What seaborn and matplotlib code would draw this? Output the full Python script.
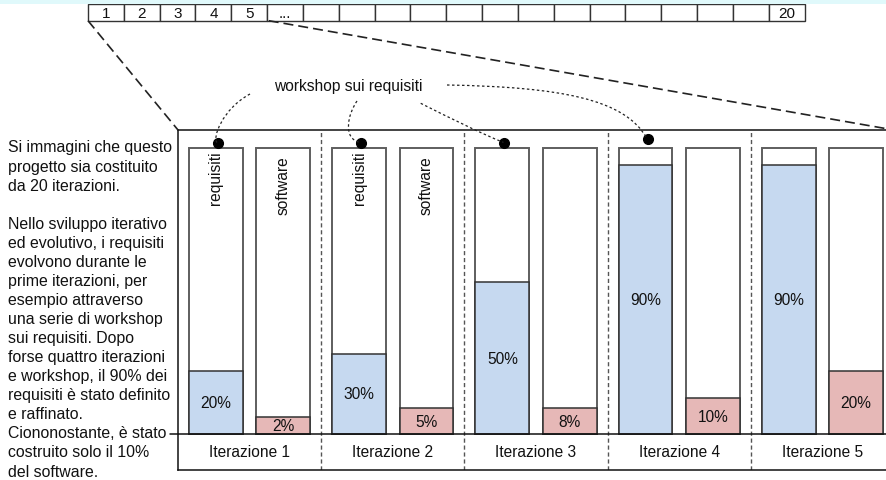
import numpy as np
import pandas as pd
import matplotlib
matplotlib.use("Agg")
import matplotlib.pyplot as plt
from matplotlib.path import Path
from matplotlib.patches import PathPatch, Rectangle
import seaborn as sns

# ---------------- data ----------------
iterazioni = ["Iterazione 1", "Iterazione 2", "Iterazione 3", "Iterazione 4", "Iterazione 5"]
tipi = ["requisiti", "software"]
# percentages written on the bars
requisiti_pct = [20, 30, 50, 90, 90]
software_pct = [2, 5, 8, 10, 20]
# fill heights as drawn in the picture (share of the full bar, %)
requisiti_altezza = [22, 28, 53, 94, 94]
software_altezza = [6, 9, 9, 12.5, 22]
# the strip of 20 iterations on top
celle = ["1", "2", "3", "4", "5", "..."] + [""] * 13 + ["20"]
# iterations whose requisiti bar gets a workshop dot
workshop_iter = [0, 1, 2, 3]
workshop_label = "workshop sui requisiti"
paragrafo = [
    "Si immagini che questo", "progetto sia costituito", "da 20 iterazioni.", "",
    "Nello sviluppo iterativo", "ed evolutivo, i requisiti", "evolvono durante le",
    "prime iterazioni, per", "esempio attraverso", "una serie di workshop",
    "sui requisiti. Dopo", "forse quattro iterazioni", "e workshop, il 90% dei",
    "requisiti è stato definito", "e raffinato.", "Ciononostante, è stato",
    "costruito solo il 10%", "del software.",
]

BLUE = "#c6d9f0"
PINK = "#e6b8b7"
FS = 11.2

# ---------------- figure ----------------
W, H = 887, 481
sns.set_theme(style="white")
plt.rcParams["font.family"] = ["Liberation Sans", "DejaVu Sans"]
plt.rcParams["text.color"] = "#111111"
fig = plt.figure(figsize=(W / 100, H / 100), dpi=100)
fig.patch.set_facecolor("white")


def fr(x0, y0, x1, y1):
    return [x0 / W, 1 - y1 / H, (x1 - x0) / W, (y1 - y0) / H]


fig.patches.append(Rectangle((0, 1 - 5 / H), 1, 5 / H, transform=fig.transFigure,
                             facecolor="#e0f9fb", edgecolor="none", zorder=0))

# ---------------- main chart ----------------
ax = fig.add_axes(fr(178, 131, 894, 471))
Y0, Y1 = -12.6, 106.3
df = pd.DataFrame({
    "iterazione": iterazioni * 2,
    "tipo": ["requisiti"] * len(iterazioni) + ["software"] * len(iterazioni),
    "altezza": requisiti_altezza + software_altezza,
    "pieno": [100] * (2 * len(iterazioni)),
})
sns.barplot(data=df, x="iterazione", y="pieno", hue="tipo", hue_order=tipi,
            palette=["white", "white"], saturation=1, width=0.94, gap=0.2,
            errorbar=None, edgecolor="#5e5e5e", linewidth=1.4, legend=False, ax=ax)
sns.barplot(data=df, x="iterazione", y="altezza", hue="tipo", hue_order=tipi,
            palette=[BLUE, PINK], saturation=1, width=0.94, gap=0.2,
            errorbar=None, edgecolor="#333333", linewidth=1.1, legend=False, ax=ax)
ax.set_xlim(-0.5, 4.5)
ax.set_ylim(Y0, Y1)
ax.set_xticks([])
ax.set_yticks([])
ax.set_xlabel("")
ax.set_ylabel("")
ax.set_facecolor("white")
for s in ["left", "top", "bottom"]:
    ax.spines[s].set_visible(True)
    ax.spines[s].set_color("#111111")
    ax.spines[s].set_linewidth(1.1)
ax.spines["right"].set_visible(False)
ax.axhline(0, color="#111111", lw=1.1, zorder=5)
ax.vlines(np.arange(len(iterazioni) - 1) + 0.5, Y0, Y1, colors="#555555",
          linestyles=(0, (3, 2)), lw=1, zorder=1)

cont_req, cont_sw = ax.containers[2], ax.containers[3]
ax.bar_label(cont_req, labels=[f"{v}%" for v in requisiti_pct], label_type="center", fontsize=FS)
ax.bar_label(cont_sw, labels=[f"{v}%" for v in software_pct], label_type="center", fontsize=FS)

for i, lab in enumerate(iterazioni):
    ax.text(i, Y0 / 2, lab, ha="center", va="center", fontsize=FS)

for i in [0, 1]:
    for cont, tipo, ytop in [(cont_req, "requisiti", 99.2), (cont_sw, "software", 97.6)]:
        p = cont.patches[i]
        ax.text(p.get_x() + p.get_width() / 2, ytop, tipo, rotation=90,
                ha="center", va="top", fontsize=FS)

# ---------------- top strip ----------------
axs = fig.add_axes(fr(88, 5, 804.5, 21.7))
xs = np.arange(len(celle)) + 0.5
bars = axs.bar(xs, [1] * len(celle), width=1, facecolor="white", edgecolor="#333333", lw=1)
for b in bars:
    b.set_clip_on(False)
for x, t in zip(xs, celle):
    axs.text(x, 0.47, t, ha="center", va="center", fontsize=11)
axs.set_xlim(0, len(celle))
axs.set_ylim(0, 1)
axs.axis("off")

# ---------------- overlay annotations ----------------
ov = fig.add_axes([0, 0, 1, 1], zorder=10)
ov.set_xlim(0, W)
ov.set_ylim(H, 0)
ov.axis("off")
ov.patch.set_alpha(0)


def to_px(axis, x, y):
    return ov.transData.inverted().transform(axis.transData.transform((x, y)))


# zoom lines from the strip to the frame
ov.plot([88, 178], [21.7, 131], color="#222222", lw=1.2, ls=(0, (6, 3)))
ov.plot([268.7, 894], [21.7, 131], color="#222222", lw=1.2, ls=(0, (6, 3)), clip_on=False)
ov.plot([170, 178], [435, 435], color="#111111", lw=1.1)

# workshop dots
dots = []
for k, i in enumerate(workshop_iter):
    p = cont_req.patches[i]
    xd = p.get_x() + p.get_width() / 2 + 0.015
    yd = 103.1 if k == len(workshop_iter) - 1 else 101.6
    ax.plot([xd], [yd], marker="o", ms=7, color="black", clip_on=False, zorder=6)
    dots.append(to_px(ax, xd, yd))

ov.text(348, 86, workshop_label, ha="center", va="center", fontsize=FS)

curves = [
    [(250, 95), (222, 110), (212, 140), (220, 142)],
    [(357, 102), (348, 115), (342, 140), (354, 143)],
    [(420.7, 104.3), (450, 119), (480, 134), (498, 143)],
    [(447, 86), (560, 88), (625, 100), (641, 137)],
]
for pts, d in zip(curves, dots):
    pts = list(pts)
    pts[-1] = (d[0] - 1, d[1] - 1)
    path = Path(pts, [Path.MOVETO, Path.CURVE4, Path.CURVE4, Path.CURVE4])
    ov.add_patch(PathPatch(path, facecolor="none", edgecolor="#222222", lw=0.9,
                           ls=(0, (2, 2))))

# left paragraph, one line at a time
PITCH = 19.06
for k, riga in enumerate(paragrafo):
    if riga:
        ov.text(8, 152.5 + k * PITCH, riga, ha="left", va="baseline", fontsize=11.4)

fig.savefig("out.png", dpi=100)
